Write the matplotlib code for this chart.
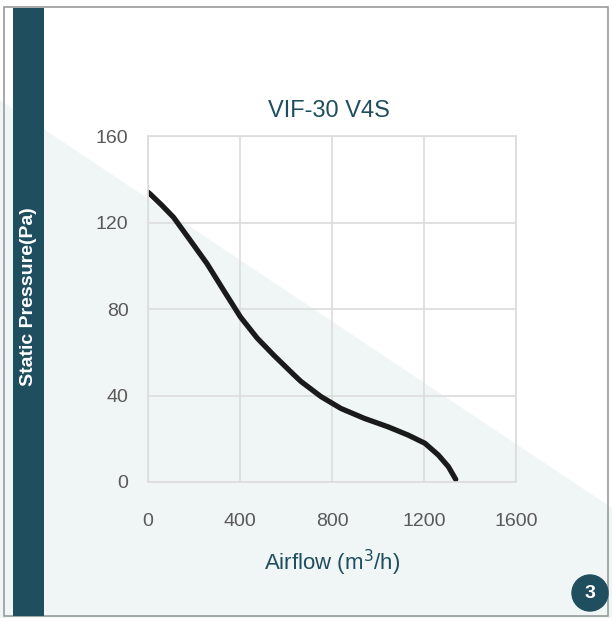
import numpy as np
import matplotlib.pyplot as plt
from matplotlib.patches import Polygon, Rectangle, Circle

# fan curve
airflow = [0, 9, 60, 111, 184, 257, 329, 402, 475, 548, 635, 665, 752, 839,
           941, 1044, 1131, 1204, 1262, 1306, 1338]
pressure = [134, 133.2, 128, 122.4, 111.7, 100.9, 88.6, 76.3, 66.5, 58.5, 49.5, 46.5,
            39.5, 34.0, 29.4, 25.5, 21.7, 17.9, 12.5, 7.1, 1.2]

x_ticks = [0, 400, 800, 1200, 1600]
y_ticks = [0, 40, 80, 120, 160]

title = "VIF-30 V4S"
teal = "#1f4e5f"
W, H = 612, 618

plt.rcParams['font.family'] = ['Liberation Sans', 'DejaVu Sans']
fig = plt.figure(figsize=(W / 100, H / 100), dpi=100)

# background: white top-right, mint lower-left, teal side bar, border
bg = fig.add_axes([0, 0, 1, 1])
bg.set_xlim(0, W)
bg.set_ylim(H, 0)
bg.axis('off')
bg.add_patch(Rectangle((0, 0), W, H, color='white', zorder=0))
bg.add_patch(Polygon([(0, 100), (W, 508), (W, H), (0, H)], closed=True,
                     color='#f0f6f5', lw=0, zorder=1))
bg.add_patch(Rectangle((4, 7), 604, 609, fill=False, ec='#9a9a9a', lw=1.2, zorder=2))
bg.add_patch(Rectangle((13, 8), 31, 608, color=teal, lw=0, zorder=3))
bg.text(29, 297, "Static Pressure(Pa)", rotation=90, color='white', fontsize=14,
        fontweight='bold', ha='center', va='center', zorder=4)
bg.add_patch(Circle((590, 593), 18, color=teal, zorder=4))
bg.text(590, 594, "3", color='white', fontsize=14, fontweight='bold',
        ha='center', va='center', zorder=5)
bg.text(329, 111, title, color=teal, fontsize=17, ha='center', va='center')
bg.text(332, 563, "Airflow (m$^3$/h)", color=teal, fontsize=16, ha='center', va='center')

ax = fig.add_axes([148 / W, (H - 482) / H, (516 - 148) / W, (482 - 136) / H])
ax.patch.set_alpha(0)
ax.plot(airflow, pressure, color='#1a1a1a', lw=3.8, solid_capstyle='round',
        solid_joinstyle='round')
ax.set_xlim(0, 1600)
ax.set_ylim(0, 160)
ax.set_xticks(x_ticks)
ax.set_yticks(y_ticks)
ax.grid(True, color='#dcdcdc', lw=1.2)
ax.set_axisbelow(True)
for s in ax.spines.values():
    s.set_color('#dcdcdc')
    s.set_linewidth(1.2)
ax.tick_params(length=0, labelsize=14, labelcolor='#595959')
ax.tick_params(axis='x', pad=22)
ax.tick_params(axis='y', pad=14)

fig.savefig('out.png', dpi=100)
